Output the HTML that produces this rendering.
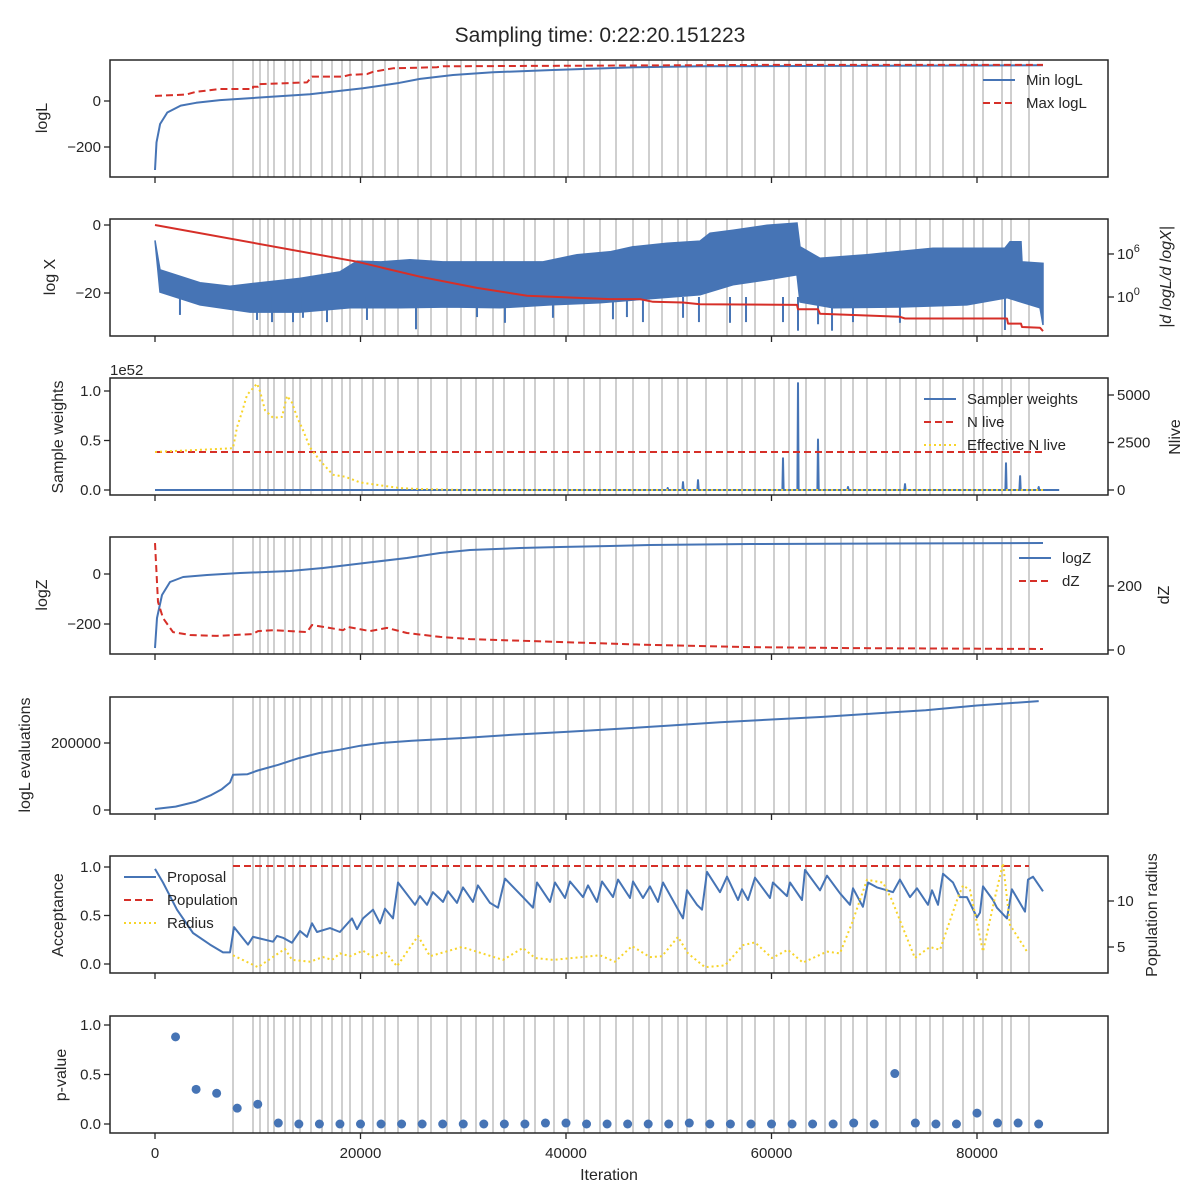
<!DOCTYPE html>
<html><head><meta charset="utf-8"><style>
body{margin:0;background:#fff}
svg{display:block;font-family:"Liberation Sans","DejaVu Sans",sans-serif;fill:#262626}
</style></head><body>
<svg id="fig" width="1200" height="1200" viewBox="0 0 1200 1200" xmlns="http://www.w3.org/2000/svg">
<rect width="1200" height="1200" fill="#fff"/>
<text x="600" y="42" text-anchor="middle" font-size="21">Sampling time: 0:22:20.151223</text>
</svg>
<script>
// ---------- data ----------
const xTicks = [0, 20000, 40000, 60000, 80000];
const grayLines = [7591,9538,10219,10998,11582,12652,13431,14112,15182,16253,17226,18200,18978,20146,21217,22385,23650,25596,26861,28419,29781,31241,32895,33966,35912,36983,38832,40195,41752,43309,44866,46521,48078,49343,50900,51776,53625,55669,57129,58394,60243,61703,63358,65207,66764,67932,69294,71144,72506,74063,75426,76691,78637,79708,80584,82433,83309,85061];
// panel 1
const minLogLIter = [0,150,500,1200,2500,4000,6330,15080,20240,23550,25790,29000,32890,38730,46910,53040,86420];
const minLogLVal = [-300,-180,-100,-50,-20,-8,4,29,55,77,96,113,125,135,147,151,155];
const maxLogLIter = [0,3000,4000,6330,9540,9540,10020,10020,14790,15280,18300,18980,20630,21220,23160,27440,28030,59170,86420];
const maxLogLVal = [22,28,40,52,52,62,62,73,81,106,106,114,117,127,142,147,151,157,157];
// panel 2
const logXIter = [0,19660,25790,31340,36200,44280,47200,48470,51390,53040,62480,62580,64530,64720,72500,72990,82920,83020,84280,84380,86130,86420];
const logXVal = [0,-10.8,-15.2,-18.5,-20.8,-21.8,-21.8,-22.6,-22.8,-23.3,-23.5,-24.8,-24.8,-26.1,-27.0,-27.5,-27.5,-29.0,-29.0,-30.0,-30.2,-31.2];
const slopeUpIter = [0,490,4380,7300,10220,14110,18000,19660,21900,24820,28030,37760,41070,44280,46520,49830,53040,54010,56250,59560,62480,62770,64720,69290,75720,82720,83210,84280,84380,86420];
const slopeUpLog = [7.9,3.8,2.0,1.5,2.0,2.6,3.5,5.0,4.9,5.2,4.9,4.9,5.9,6.3,7.0,7.5,7.8,8.9,9.3,10.0,10.3,7.0,5.4,5.9,6.8,6.8,7.7,7.7,4.9,4.7];
const slopeLowIter = [0,490,4380,9250,14110,18980,23840,28710,33580,38440,43310,53040,56250,59560,62480,62770,65980,72500,79020,82920,86130,86420];
const slopeLowLog = [7.9,0.7,-1.1,-2.1,-2.1,-1.5,-1.5,-1.4,-1.5,-1.1,-0.8,0.3,1.7,2.4,3.1,-0.7,-1.5,-1.4,-1.1,-0.1,-1.5,-3.9];
const spikeIter = [2430,9930,11390,13430,14400,16740,20630,25400,31340,34060,38730,44570,45930,47490,51390,52940,55960,57520,61120,62580,64530,65890,67930,72500,82720];
const spikeLog = [-2.5,-3.2,-3.5,-3.5,-2.9,-3.5,-3.2,-4.5,-2.8,-3.6,-2.9,-3.1,-2.8,-3.5,-2.9,-3.5,-3.6,-3.5,-3.5,-4.7,-3.8,-4.7,-3.5,-3.6,-4.6];
// panel 3
const weightSpikeIter = [49900,51390,52850,61120,62580,64530,67450,72990,82820,84190,86000];
const weightSpikeVal = [0.02,0.08,0.10,0.32,1.08,0.51,0.03,0.06,0.27,0.14,0.03];
const weightEndIter = 88000;
const nLive = 2000;
const effNIter = [0,7590,7980,8470,8950,9930,10220,10710,11480,12360,12850,13330,13820,14400,15080,16060,17320,18490,19950,21900,23850,25790,30000,86420];
const effNVal = [2000,2200,3300,4100,5000,5600,5200,4200,3800,3850,4950,4600,3850,3150,2250,1550,800,700,400,250,100,50,0,0];
// panel 4
const logZIter = [0,190,680,1460,2730,5060,8270,13140,16350,21220,24520,27740,30660,35520,39410,44280,48170,57910,86420];
const logZVal = [-296,-176,-84,-32,-12,-4,4,12,24,48,64,84,96,104,108,112,116,120,124];
const dZIter = [0,290,780,1750,3400,6030,9540,10020,11480,14790,15280,18300,18780,20920,22580,24520,27740,30660,39410,48170,57900,67640,86420];
const dZVal = [334,150,100,56,47,44,50,59,62,56,78,62,72,59,69,53,41,34,25,16,9,6,3];
// panel 5
const evalIter = [0,2000,4000,5500,6500,7300,7600,9000,10000,12000,14000,16000,18000,20000,22000,25000,30000,35000,40000,45000,50000,55000,60000,65000,70000,75000,80000,86000];
const evalVal = [3000,10000,25000,45000,62000,82000,105000,107000,118000,135000,155000,170000,180000,192000,200000,207000,215000,225000,233000,242000,252000,262000,270000,278000,288000,298000,312000,325000];
// panel 6
const propIter = [0,780,2140,3700,5350,6620,7300,7690,9050,9540,11480,11870,12460,13330,14110,14790,15280,15770,17030,18000,19170,19660,20240,21220,21900,22380,23160,23650,25300,25790,26470,27050,28030,28510,29390,29980,30950,31430,32600,33380,34060,35810,36790,37180,38440,38930,39900,40390,41650,42140,43020,43500,44570,45060,46230,46520,47490,48170,48950,49440,51390,51780,52750,53240,53720,54990,55670,56740,57130,57710,58390,59850,60140,61510,61800,62970,63260,64720,65400,66660,67640,67930,68900,69390,70270,71240,71820,72500,73480,74160,75230,75620,76200,76690,77660,78340,79020,80000,80290,80580,81560,81940,82920,83400,84670,84960,85450,86420];
const propVal = [0.98,0.84,0.56,0.32,0.20,0.12,0.12,0.38,0.20,0.28,0.23,0.29,0.27,0.22,0.34,0.28,0.42,0.33,0.37,0.33,0.47,0.36,0.47,0.56,0.42,0.57,0.47,0.84,0.61,0.70,0.61,0.74,0.64,0.75,0.63,0.79,0.64,0.81,0.63,0.58,0.88,0.69,0.58,0.84,0.64,0.84,0.68,0.85,0.69,0.81,0.64,0.85,0.69,0.87,0.68,0.85,0.68,0.80,0.64,0.84,0.47,0.76,0.61,0.56,0.95,0.74,0.90,0.66,0.77,0.66,0.89,0.68,0.84,0.70,0.84,0.66,0.97,0.76,0.91,0.73,0.61,0.78,0.59,0.84,0.79,0.76,0.74,0.87,0.69,0.78,0.61,0.76,0.61,0.93,0.84,0.69,0.69,0.48,0.53,0.80,0.66,0.58,0.47,0.77,0.54,0.87,0.90,0.75];
const popIter = [7590,85060];
const popVal = [1.01,1.01];
const radIter = [7590,10020,12650,13330,15080,16350,17230,18000,18980,20240,21220,22380,23550,25600,26760,29880,33870,35810,36980,38730,43310,44770,46420,48170,49340,50900,51870,53530,55470,57220,58390,60050,61600,63060,65400,66660,67830,69290,70850,71720,73960,75420,76400,78150,78640,79320,80580,81750,82530,83210,84870];
const radVal = [4.1,2.8,4.8,3.6,3.4,3.9,3.6,4.3,4.0,4.6,3.9,4.5,2.9,6.2,4.0,5.0,3.6,4.9,3.8,3.6,4.1,3.4,5.1,3.9,4.0,6.1,4.3,2.8,3.0,5.2,5.5,3.8,4.7,3.3,4.5,4.3,7.6,12.3,12.0,10.1,3.8,5.0,4.7,10.4,11.7,11.2,4.5,10.4,14.1,7.4,4.5];
// panel 7
const pIter = [2000,4000,6000,8000,10000,12000,14000,16000,18000,20000,22000,24000,26000,28000,30000,32000,34000,36000,38000,40000,42000,44000,46000,48000,50000,52000,54000,56000,58000,60000,62000,64000,66000,68000,70000,72000,74000,76000,78000,80000,82000,84000,86000];
const pVal = [0.88,0.35,0.31,0.16,0.20,0.01,0,0,0,0,0,0,0,0,0,0,0,0,0.01,0.01,0,0,0,0,0,0.01,0,0,0,0,0,0,0,0.01,0,0.51,0.01,0,0,0.11,0.01,0.01,0];

// ---------- scales ----------
const NS = "http://www.w3.org/2000/svg";
const svg = document.getElementById("fig");
const X0 = 110, X1 = 1108;
const xs = v => 155 + v * 0.010275;
const panels = [
  {top:60, name:"logl"},{top:219, name:"logx"},{top:378, name:"weights"},{top:537, name:"logz"},
  {top:697, name:"evaluations"},{top:856, name:"acceptance"},{top:1016, name:"pvalue"}];
const H = 117;
const BLUE = "#4674b5", RED = "#d62f28", YEL = "#f7d42a", GRAY = "#cfcfcf", INK = "#262626";

function el(tag, attrs, parent) {
  const e = document.createElementNS(NS, tag);
  for (const k in attrs) e.setAttribute(k, attrs[k]);
  (parent || svg).appendChild(e);
  return e;
}
function pts(xa, ya, fy) { return xa.map((v, i) => xs(v).toFixed(1) + "," + fy(ya[i]).toFixed(1)).join(" "); }

// clip paths + gray lines
panels.forEach((p, i) => {
  const cp = el("clipPath", {id: "clip" + i});
  el("rect", {x: X0, y: p.top, width: X1 - X0, height: H}, cp);
  const g = el("g", {"clip-path": "url(#clip" + i + ")"});
  
  
  p.g = g;
  grayLines.forEach(v => {
    const l = el("line", {x1: xs(v), x2: xs(v), y1: p.top, y2: p.top + H, stroke: GRAY, "stroke-width": 2}, g);
    
    
  });
});

function line(g, xa, ya, fy, color, dash, name, w) {
  const l = el("polyline", {points: pts(xa, ya, fy), fill: "none", stroke: color, "stroke-width": w || 2, "stroke-dasharray": dash || "none", "stroke-linejoin": "round"}, g);
  
  
  return l;
}
const DASH = "7,4", DOT = "2,3";

// panel 1
const y1 = v => 101 - v * 0.23;
line(panels[0].g, minLogLIter, minLogLVal, y1, BLUE, null, "min-logl-line");
line(panels[0].g, maxLogLIter, maxLogLVal, y1, RED, DASH, "max-logl-line");
// panel 2
const y2 = v => 225 - v * 3.4;
const y2r = L => 297 - L * 7.17;
const band = slopeUpIter.map((v, i) => xs(v).toFixed(1) + "," + y2r(slopeUpLog[i]).toFixed(1))
  .concat(slopeLowIter.slice().reverse().map((v, i, a) => xs(v).toFixed(1) + "," + y2r(slopeLowLog[slopeLowLog.length - 1 - i]).toFixed(1)));
const bandEl = el("polygon", {points: band.join(" "), fill: BLUE, stroke: BLUE, "stroke-width": 1.5}, panels[1].g);


spikeIter.forEach((v, i) => {
  const s = el("line", {x1: xs(v), x2: xs(v), y1: y2r(0), y2: y2r(spikeLog[i]), stroke: BLUE, "stroke-width": 2}, panels[1].g);
  
  
});
line(panels[1].g, logXIter, logXVal, y2, RED, null, "log-x-line");
// panel 3
const y3 = w => 490 - w * 99;
const y3r = n => 490 - n * 0.019;
const wI = [0], wV = [0];
weightSpikeIter.forEach((v, i) => { wI.push(v - 60, v, v + 60); wV.push(0, weightSpikeVal[i], 0); });
wI.push(weightEndIter); wV.push(0);
line(panels[2].g, wI, wV, y3, BLUE, null, "sampler-weights-line");
line(panels[2].g, [0, 86420], [nLive, nLive], y3r, RED, DASH, "n-live-line");
line(panels[2].g, effNIter, effNVal, y3r, YEL, DOT, "effective-n-live-line");
// panel 4
const y4 = v => 574 - v * 0.25;
const y4r = d => 650 - d * 0.32;
line(panels[3].g, logZIter, logZVal, y4, BLUE, null, "log-z-line");
line(panels[3].g, dZIter, dZVal, y4r, RED, DASH, "dz-line");
// panel 5
const y5 = v => 810 - v * 0.000335;
line(panels[4].g, evalIter, evalVal, y5, BLUE, null, "logl-evaluations-line");
// panel 6
const y6 = a => 964 - a * 97;
const y6r = r => 993 - r * 9.2;
line(panels[5].g, popIter, popVal, y6, RED, DASH, "population-line");
line(panels[5].g, propIter, propVal, y6, BLUE, null, "proposal-acceptance-line");
line(panels[5].g, radIter, radVal, y6r, YEL, DOT, "radius-line");
// panel 7
const y7 = p => 1124 - p * 99;
pIter.forEach((v, i) => {
  const c = el("circle", {cx: xs(v), cy: y7(pVal[i]), r: 4.5, fill: BLUE}, panels[6].g);
  
  
});

// frames + ticks
function text(x, y, s, anchor, size, name, rot) {
  const t = el("text", {x: x, y: y, "text-anchor": anchor || "middle", "font-size": size || 15});
  if (rot) t.setAttribute("transform", "rotate(-90 " + x + " " + y + ")");
  t.textContent = s;
  
  
  return t;
}
function tick(x1, y1_, x2, y2_) {
  const t = el("line", {x1: x1, y1: y1_, x2: x2, y2: y2_, stroke: INK, "stroke-width": 1.3});
  
  
}
panels.forEach((p, i) => {
  const r = el("rect", {x: X0, y: p.top, width: X1 - X0, height: H, fill: "none", stroke: INK, "stroke-width": 1.5});
  
  
  xTicks.forEach(v => tick(xs(v), p.top + H, xs(v), p.top + H + 6));
});
xTicks.forEach(v => text(xs(v), 1158, String(v), "middle", 15, "x-tick-label"));
text(609, 1180, "Iteration", "middle", 16, "x-axis-title");

function ly(ticks, fy, labels) { ticks.forEach((v, i) => { tick(X0 - 6, fy(v), X0, fy(v)); text(X0 - 9, fy(v) + 5, labels[i], "end", 15, "y-tick-label"); }); }
function ry(ticks, fy, labels) { ticks.forEach((v, i) => { tick(X1, fy(v), X1 + 6, fy(v)); text(X1 + 9, fy(v) + 5, labels[i], "start", 15, "right-y-tick-label"); }); }

ly([0, -200], y1, ["0", "\u2212200"]);
ly([0, -20], y2, ["0", "\u221220"]);
ly([0, 0.5, 1.0], y3, ["0.0", "0.5", "1.0"]);
ly([0, -200], y4, ["0", "\u2212200"]);
ly([0, 200000], y5, ["0", "200000"]);
ly([0, 0.5, 1.0], y6, ["0.0", "0.5", "1.0"]);
ly([0, 0.5, 1.0], y7, ["0.0", "0.5", "1.0"]);
ry([2500, 5000, 0], y3r, ["2500", "5000", "0"]);
ry([0, 200], y4r, ["0", "200"]);
ry([5, 10], y6r, ["5", "10"]);
[0, 6].forEach(L => {
  tick(X1, y2r(L), X1 + 6, y2r(L));
  const t = text(X1 + 9, y2r(L) + 5, "10", "start", 15, "right-y-tick-label");
  const s = el("tspan", {dy: -7, "font-size": 11}, t); s.textContent = String(L);
});
text(110, 375, "1e52", "start", 15, "weights-offset-label");

text(47, 118, "logL", "middle", 16, "y-axis-title", true);
text(55, 277, "log X", "middle", 16, "y-axis-title", true);
text(63, 437, "Sample weights", "middle", 16, "y-axis-title", true);
text(47, 595, "logZ", "middle", 16, "y-axis-title", true);
text(30, 755, "logL evaluations", "middle", 16, "y-axis-title", true);
text(63, 915, "Acceptance", "middle", 16, "y-axis-title", true);
text(66, 1075, "p-value", "middle", 16, "y-axis-title", true);
text(1171, 277, "|d logL/d logX|", "middle", 16, "right-y-axis-title", true).setAttribute("font-style", "italic");
text(1180, 437, "Nlive", "middle", 16, "right-y-axis-title", true);
text(1169, 595, "dZ", "middle", 16, "right-y-axis-title", true);
text(1157, 915, "Population radius", "middle", 16, "right-y-axis-title", true);

function legend(x, y, items) {
  items.forEach((it, i) => {
    const yy = y + i * 23;
    const l = el("line", {x1: x, x2: x + 32, y1: yy, y2: yy, stroke: it[1], "stroke-width": 2, "stroke-dasharray": it[2] || "none"});
    
    
    text(x + 43, yy + 5, it[0], "start", 15, "legend-entry");
  });
}
legend(983, 80, [["Min logL", BLUE], ["Max logL", RED, DASH]]);
legend(924, 399, [["Sampler weights", BLUE], ["N live", RED, DASH], ["Effective N live", YEL, DOT]]);
legend(1019, 558, [["logZ", BLUE], ["dZ", RED, DASH]]);
legend(124, 877, [["Proposal", BLUE], ["Population", RED, DASH], ["Radius", YEL, DOT]]);
</script>
</body></html>
